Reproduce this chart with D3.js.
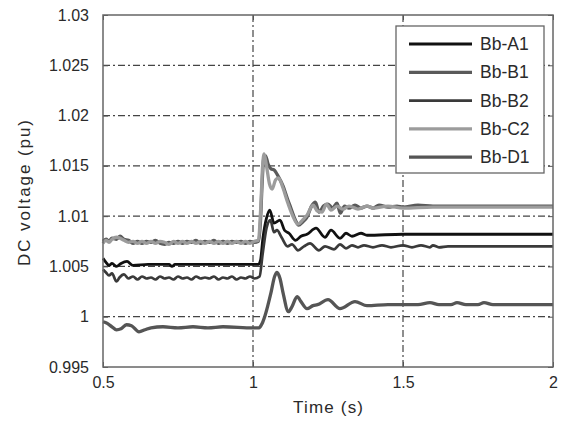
<!DOCTYPE html>
<html>
<head>
<meta charset="utf-8">
<script src="https://cdn.jsdelivr.net/npm/d3@7"></script>
<style>
  body { margin: 0; background: #fff; }
  text { font-family: "Liberation Sans", Arial, sans-serif; fill: #2a2a2a; }
</style>
</head>
<body>
<div id="chart"></div>
<script>
// values: [time (s), DC voltage (pu)]
var seriesNames = ["Bb-A1", "Bb-B1", "Bb-B2", "Bb-C2", "Bb-D1"]
var xTicks = [0.5, 1, 1.5, 2]
var yTicks = [0.995, 1, 1.005, 1.01, 1.015, 1.02, 1.025, 1.03]

var bbA1 = [[0.5,1.0058],[0.51,1.0054],[0.52,1.0051],[0.53,1.0053],[0.545,1.0050],[0.56,1.0053],[0.58,1.0055],[0.6,1.0051],[0.65,1.0052],[0.72,1.0052],[0.73,1.0050],[0.74,1.0052],[0.9,1.0052],[1.0,1.0052],[1.018,1.0052],[1.025,1.0056],[1.033,1.0078],[1.045,1.0098],[1.056,1.0106],[1.07,1.0093],[1.09,1.0096],[1.105,1.0086],[1.12,1.0083],[1.142,1.0076],[1.16,1.0080],[1.18,1.0082],[1.21,1.0088],[1.24,1.0079],[1.26,1.0086],[1.29,1.0078],[1.31,1.0083],[1.33,1.0080],[1.36,1.0083],[1.38,1.0081],[1.5,1.0082],[2.0,1.0082]]

var bbB1 = [[0.5,1.0075],[0.51,1.0077],[0.52,1.0075],[0.53,1.0078],[0.545,1.0077],[0.557,1.0080],[0.57,1.0077],[0.585,1.0076],[0.6,1.0073],[0.615,1.0075],[0.63,1.0073],[0.645,1.0075],[0.66,1.0074],[0.675,1.0076],[0.69,1.0073],[0.705,1.0072],[0.72,1.0074],[0.735,1.0073],[0.75,1.0075],[0.765,1.0073],[0.78,1.0075],[0.795,1.0074],[0.81,1.0076],[0.825,1.0073],[0.84,1.0075],[0.855,1.0074],[0.87,1.0076],[0.885,1.0073],[0.9,1.0075],[0.915,1.0073],[0.93,1.0075],[0.945,1.0074],[0.96,1.0075],[0.975,1.0073],[0.99,1.0075],[1.005,1.0074],[1.018,1.0075],[1.025,1.0095],[1.03,1.0130],[1.036,1.0158],[1.042,1.0160],[1.05,1.0152],[1.06,1.0147],[1.07,1.0146],[1.085,1.0139],[1.1,1.0130],[1.115,1.0117],[1.125,1.0109],[1.14,1.0097],[1.152,1.0091],[1.165,1.0094],[1.18,1.0099],[1.195,1.0110],[1.208,1.0114],[1.22,1.0104],[1.235,1.0110],[1.25,1.0112],[1.265,1.0108],[1.28,1.0113],[1.291,1.0103],[1.305,1.0110],[1.32,1.0108],[1.34,1.0111],[1.36,1.0108],[1.38,1.0110],[1.4,1.0108],[1.42,1.0111],[1.45,1.0109],[1.48,1.0110],[1.5,1.0109],[1.55,1.0111],[1.6,1.0110],[1.7,1.0110],[2.0,1.0110]]

var bbB2 = [[0.5,1.0047],[0.51,1.0044],[0.52,1.0041],[0.53,1.0043],[0.545,1.0035],[0.555,1.0039],[0.57,1.0042],[0.585,1.0038],[0.6,1.0040],[0.615,1.0037],[0.63,1.0040],[0.645,1.0038],[0.66,1.0039],[0.675,1.0037],[0.69,1.0040],[0.705,1.0038],[0.72,1.0039],[0.735,1.0037],[0.75,1.0040],[0.765,1.0038],[0.78,1.0039],[0.795,1.0037],[0.81,1.0040],[0.825,1.0038],[0.84,1.0039],[0.855,1.0038],[0.87,1.0040],[0.885,1.0037],[0.9,1.0039],[0.915,1.0038],[0.93,1.0040],[0.945,1.0037],[0.96,1.0039],[0.975,1.0038],[0.99,1.0040],[1.005,1.0038],[1.022,1.0040],[1.032,1.0062],[1.045,1.0088],[1.058,1.0096],[1.07,1.0084],[1.08,1.0086],[1.095,1.0079],[1.115,1.0070],[1.13,1.0072],[1.15,1.0066],[1.17,1.0070],[1.19,1.0073],[1.22,1.0066],[1.24,1.0070],[1.27,1.0067],[1.29,1.0072],[1.31,1.0068],[1.33,1.0071],[1.35,1.0069],[1.37,1.0071],[1.4,1.0069],[1.43,1.0071],[1.46,1.0069],[1.5,1.0071],[1.53,1.0069],[1.56,1.0071],[1.59,1.0069],[1.6,1.0071],[1.62,1.0069],[1.65,1.0070],[1.7,1.0070],[2.0,1.0070]]

var bbC2 = [[0.5,1.0073],[0.51,1.0076],[0.52,1.0074],[0.53,1.0077],[0.545,1.0079],[0.557,1.0078],[0.57,1.0076],[0.585,1.0074],[0.6,1.0075],[0.615,1.0073],[0.63,1.0075],[0.645,1.0073],[0.66,1.0075],[0.675,1.0073],[0.69,1.0075],[0.705,1.0074],[0.72,1.0072],[0.735,1.0075],[0.75,1.0073],[0.765,1.0075],[0.78,1.0073],[0.795,1.0075],[0.81,1.0073],[0.825,1.0075],[0.84,1.0073],[0.855,1.0075],[0.87,1.0073],[0.885,1.0075],[0.9,1.0073],[0.915,1.0075],[0.93,1.0073],[0.945,1.0075],[0.96,1.0073],[0.975,1.0075],[0.99,1.0073],[1.005,1.0075],[1.018,1.0076],[1.026,1.0110],[1.032,1.0150],[1.037,1.0162],[1.045,1.0150],[1.055,1.0132],[1.064,1.0127],[1.075,1.0136],[1.085,1.0138],[1.1,1.0128],[1.115,1.0114],[1.13,1.0102],[1.15,1.0092],[1.165,1.0096],[1.18,1.0101],[1.2,1.0111],[1.215,1.0105],[1.23,1.0104],[1.245,1.0112],[1.26,1.0106],[1.28,1.0110],[1.3,1.0107],[1.32,1.0110],[1.35,1.0107],[1.38,1.0110],[1.4,1.0108],[1.45,1.0110],[1.5,1.0108],[1.6,1.0109],[2.0,1.0109]]

var bbD1 = [[0.5,0.9995],[0.51,0.9994],[0.53,0.9990],[0.545,0.9987],[0.56,0.9988],[0.578,0.9992],[0.595,0.9991],[0.62,0.9985],[0.64,0.9987],[0.66,0.9989],[0.7,0.9990],[0.75,0.9989],[0.8,0.9990],[0.85,0.9989],[0.9,0.9990],[1.0,0.9989],[1.02,0.9989],[1.03,0.9993],[1.04,1.0001],[1.06,1.0024],[1.072,1.0040],[1.08,1.0044],[1.09,1.0038],[1.1,1.0024],[1.118,1.0005],[1.13,1.0010],[1.147,1.0020],[1.16,1.0015],[1.18,1.0008],[1.2,1.0011],[1.215,1.0012],[1.25,1.0017],[1.29,1.0008],[1.34,1.0015],[1.38,1.0011],[1.45,1.0012],[1.55,1.0012],[1.59,1.0014],[1.62,1.0012],[1.66,1.0012],[1.68,1.0014],[1.71,1.0012],[1.75,1.0012],[1.77,1.0014],[1.8,1.0012],[2.0,1.0012]]

var allSeries = [bbA1, bbB1, bbB2, bbC2, bbD1]
var colors = ["#111111", "#5a5a5a", "#3a3a3a", "#9c9c9c", "#555555"]
var widths = [2.8, 3.3, 2.7, 3.3, 3.3]

var width = 573, height = 426
var plotLeft = 103, plotRight = 553, plotTop = 15, plotBottom = 367

var svg = d3.select("#chart").append("svg")
    .attr("width", width)
    .attr("height", height)

var x = d3.scaleLinear().domain([0.5, 2]).range([plotLeft, plotRight])
var y = d3.scaleLinear().domain([0.995, 1.03]).range([plotBottom, plotTop])

// dash-dot grid
svg.append("g").selectAll("line")
    .data(yTicks.slice(1, -1))
    .enter().append("line")
    .attr("x1", plotLeft).attr("x2", plotRight)
    .attr("y1", d => y(d)).attr("y2", d => y(d))
    .attr("stroke", "#444")
    .attr("stroke-width", 1.2)
    .attr("stroke-dasharray", "7,3,2,3")

svg.append("g").selectAll("line")
    .data(xTicks.slice(1, -1))
    .enter().append("line")
    .attr("y1", plotTop).attr("y2", plotBottom)
    .attr("x1", d => x(d)).attr("x2", d => x(d))
    .attr("stroke", "#444")
    .attr("stroke-width", 1.2)
    .attr("stroke-dasharray", "7,3,2,3")

var line = d3.line()
    .x(d => x(d[0]))
    .y(d => y(d[1]))
    .curve(d3.curveMonotoneX)

svg.append("g").selectAll("path")
    .data(allSeries)
    .enter().append("path")
    .attr("fill", "none")
    .attr("stroke", (d, i) => colors[i])
    .attr("stroke-width", (d, i) => widths[i])
    .attr("stroke-linejoin", "round")
    .attr("d", line)

// axes with inward ticks, matlab style
svg.append("g")
    .attr("transform", `translate(0,${plotBottom})`)
    .call(d3.axisBottom(x).tickValues(xTicks).tickSizeInner(-5).tickSizeOuter(0).tickPadding(10).tickFormat(d3.format("")))
svg.append("g")
    .attr("transform", `translate(0,${plotTop})`)
    .call(d3.axisTop(x).tickValues(xTicks).tickSizeInner(-5).tickSizeOuter(0).tickFormat(""))
svg.append("g")
    .attr("transform", `translate(${plotLeft},0)`)
    .call(d3.axisLeft(y).tickValues(yTicks).tickSizeInner(-5).tickSizeOuter(0).tickPadding(14).tickFormat(d3.format("")))
svg.append("g")
    .attr("transform", `translate(${plotRight},0)`)
    .call(d3.axisRight(y).tickValues(yTicks).tickSizeInner(-5).tickSizeOuter(0).tickFormat(""))

svg.selectAll(".domain").remove()
svg.selectAll(".tick line").attr("stroke", "#555")
svg.selectAll(".tick text")
    .style("font-family", "'Liberation Sans', Arial, sans-serif")
    .style("font-size", "16px")
    .attr("fill", "#2a2a2a")

svg.append("rect")
    .attr("x", plotLeft).attr("y", plotTop)
    .attr("width", plotRight - plotLeft).attr("height", plotBottom - plotTop)
    .attr("fill", "none")
    .attr("stroke", "#666")
    .attr("stroke-width", 1.5)

svg.append("text")
    .attr("x", 328)
    .attr("y", 413)
    .attr("text-anchor", "middle")
    .style("font-size", "17px")
    .attr("textLength", 70)
    .attr("lengthAdjust", "spacing")
    .text("Time (s)")

svg.append("text")
    .attr("transform", "translate(30,193) rotate(-90)")
    .attr("text-anchor", "middle")
    .style("font-size", "17px")
    .attr("textLength", 146)
    .attr("lengthAdjust", "spacing")
    .text("DC voltage (pu)")

// legend
var legend = svg.append("g")
legend.append("rect")
    .attr("x", 396).attr("y", 26)
    .attr("width", 148).attr("height", 147)
    .attr("fill", "#fff")
    .attr("stroke", "#666")
    .attr("stroke-width", 1.3)

var rows = legend.selectAll(".row")
    .data(seriesNames)
    .enter().append("g")
    .attr("transform", (d, i) => `translate(0,${44 + i * 28.3})`)

rows.append("line")
    .attr("x1", 409).attr("x2", 472)
    .attr("stroke", (d, i) => colors[i])
    .attr("stroke-width", (d, i) => widths[i])

rows.append("text")
    .attr("x", 480)
    .attr("y", 6)
    .style("font-size", "17.5px")
    .text(d => d)
</script>
</body>
</html>
